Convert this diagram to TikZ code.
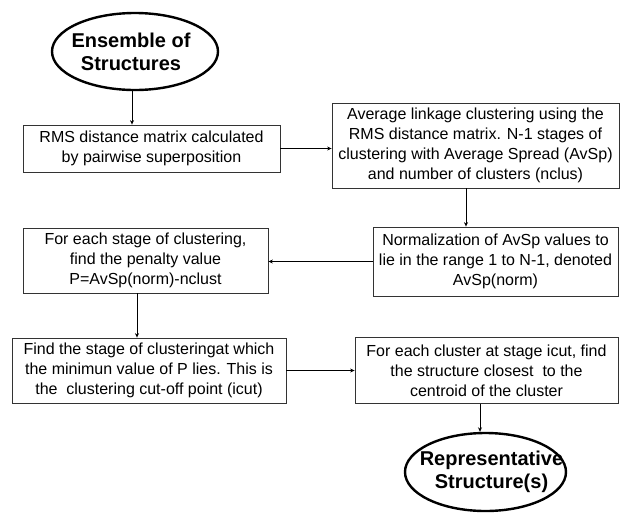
\documentclass[tikz,border=0pt]{standalone}
\usepackage{fontspec}
\setmainfont{Liberation Sans}
\usetikzlibrary{shapes.geometric,arrows.meta}
\tikzset{
  procbox/.style={draw=black!80, line width=0.8pt, rectangle, inner sep=0pt, align=center,
    font=\fontsize{16}{20}\selectfont},
  term/.style={draw=black, line width=2.4pt, ellipse, inner sep=0pt},
  termtext/.style={align=center, inner sep=0pt, font=\fontsize{20}{23}\selectfont\bfseries},
  arr/.style={draw=black, line width=0.9pt, -{Stealth[length=4.5pt,width=4pt]}}
}
\begin{document}
\begin{tikzpicture}[x=1pt,y=-1pt]
\useasboundingbox[fill=white] (0,0) rectangle (621,512);
\node[term, minimum width=166, minimum height=77] (e1) at (135,51.5) {};
\node[termtext] (t1) at ([xshift=-4]e1.center) {Ensemble of\\Structures};
\node[procbox, minimum width=257, minimum height=47] (b1) at (151.5,148.5)
  {RMS distance matrix calculated\\by pairwise superposition};
\node[procbox, minimum width=287, minimum height=85] (b2) at (475.5,145.5)
  {Average linkage clustering using the\\RMS distance matrix. N-1 stages of\\clustering with Average Spread (AvSp)\\and number of clusters (nclus)};
\node[procbox, minimum width=245, minimum height=69] (b3) at (495.5,261.5)
  {Normalization of AvSp values to\\lie in the range 1 to N-1, denoted\\AvSp(norm)};
\node[procbox, minimum width=245, minimum height=65] (b4) at (145.5,260.5)
  {For each stage of clustering,\\find the penalty value\\P=AvSp(norm)-nclust};
\node[procbox, minimum width=274, minimum height=65] (b5) at (149,370.5)
  {Find the stage of clusteringat which\\the minimun value of P lies. This is\\the\ \ clustering cut-off point (icut)};
\node[procbox, minimum width=263, minimum height=66] (b6) at (486.5,370.5)
  {For each cluster at stage icut, find\\the structure closest\ \ to the\\centroid of the cluster};
\node[term, minimum width=161, minimum height=78] (e2) at (485.5,472) {};
\node[termtext] (t2) at ([xshift=6]e2.center) {Representative\\Structure(s)};
\draw[arr] ([xshift=-3]e1.south) -- ([xshift=-3]e1.south |- b1.north);
\draw[arr] (b1.east) -- (b1.east -| b2.west);
\draw[arr] ([xshift=-9.5]b2.south) -- ([xshift=-9.5]b2.south |- b3.north);
\draw[arr] (b3.west) -- (b3.west -| b4.east);
\draw[arr] ([xshift=-8.5]b4.south) -- ([xshift=-8.5]b4.south |- b5.north);
\draw[arr] (b5.east) -- (b5.east -| b6.west);
\draw[arr] ([xshift=-6.5]b6.south) -- ([xshift=-6.5]b6.south |- e2.north);
\end{tikzpicture}
\end{document}
